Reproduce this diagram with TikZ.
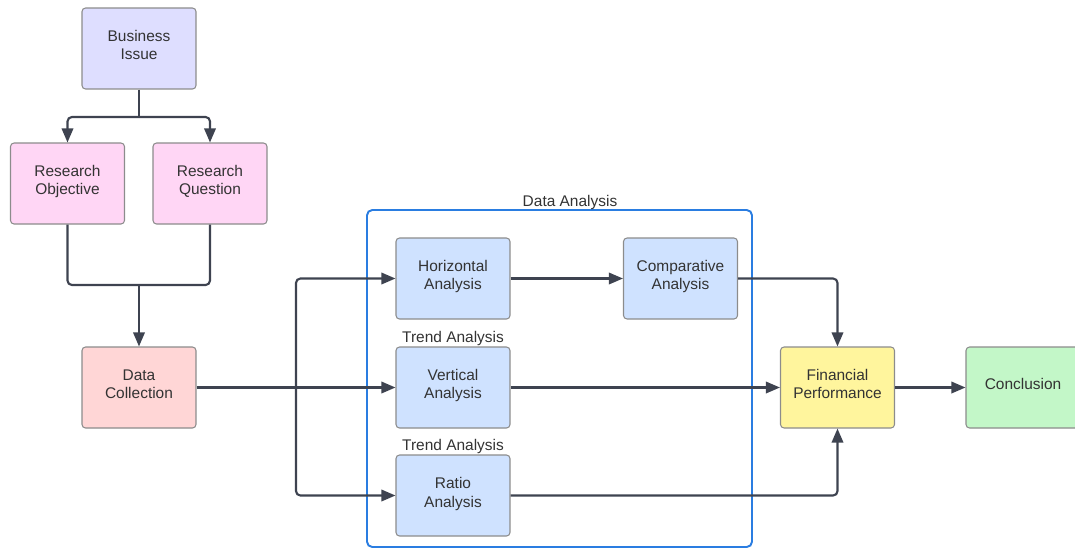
\documentclass[tikz,border=0pt]{standalone}
\usepackage{fontspec}
\setmainfont{Liberation Sans}
\usetikzlibrary{arrows.meta}
\definecolor{boxline}{HTML}{8C8C8C}
\definecolor{wire}{HTML}{3E4350}
\definecolor{frameblue}{HTML}{2A7DE1}
\definecolor{issuefill}{HTML}{DEDEFF}
\definecolor{researchfill}{HTML}{FFD6F5}
\definecolor{collectfill}{HTML}{FFD6D6}
\definecolor{analysisfill}{HTML}{CFE2FF}
\definecolor{perffill}{HTML}{FFF59D}
\definecolor{endfill}{HTML}{C3F7C8}
\tikzset{
  block/.style={draw=boxline, line width=0.6pt, rounded corners=2pt,
    minimum width=2.28cm, minimum height=1.62cm, align=center,
    text depth=3.6pt, text=black!80, font=\fontsize{8.8}{10.3}\selectfont},
  flow/.style={draw=wire, line width=1.2pt, rounded corners=2.5pt,
    -{Triangle[length=8pt,width=6.5pt]}},
  tag/.style={text=black!80, inner sep=0.5pt, font=\fontsize{8.8}{10.3}\selectfont}
}

\begin{document}
\begin{tikzpicture}[x=0.02cm, y=-0.02cm]
\useasboundingbox (0,0) rectangle (1075,549);
% group frame
\draw[frameblue, line width=1.1pt, rounded corners=3pt] (367,210) rectangle (752,547);
\node[tag] (datl) at (570,202) {Data Analysis};
% blocks
\node[block, fill=issuefill] (biz) at (139,48.5) {Business\\Issue};
\node[block, fill=researchfill] (robj) at (67.5,183.5) {Research\\Objective};
\node[block, fill=researchfill] (rq) at (210,183.5) {Research\\Question};
\node[block, fill=collectfill] (dc) at (139,387.5) {Data\\Collection};
\node[block, fill=analysisfill] (ha) at (453,278.5) {Horizontal\\Analysis};
\node[block, fill=analysisfill] (ca) at (680.5,278.5) {Comparative\\Analysis};
\node[block, fill=analysisfill] (va) at (453,387.5) {Vertical\\Analysis};
\node[block, fill=analysisfill] (ra) at (453,495.5) {Ratio\\Analysis};
\node[block, fill=perffill] (fp) at (837.5,387.5) {Financial\\Performance};
\node[block, fill=endfill] (con) at (1023,387.5) {Conclusion};
\node[tag, anchor=south] (trv) at (va.north) {Trend Analysis};
\node[tag, anchor=south] (trr) at (ra.north) {Trend Analysis};
% connectors
\coordinate (bsplit) at (139,117);
\coordinate (rjoin) at (139,285);
\coordinate (dsplit) at (296,387.5);
\draw[draw=wire, line width=1.2pt] (biz.south) -- (bsplit);
\draw[flow] (bsplit) -| (robj.north);
\draw[flow] (bsplit) -| (rq.north);
\draw[draw=wire, line width=1.2pt, rounded corners=2.5pt] (robj.south) |- (rjoin);
\draw[draw=wire, line width=1.2pt, rounded corners=2.5pt] (rq.south) |- (rjoin);
\draw[flow] (rjoin) -- (dc.north);
\draw[flow] (dc.east) -- (va.west);
\draw[flow] (dsplit) |- (ha.west);
\draw[flow] (dsplit) |- (ra.west);
\draw[flow] (ha.east) -- (ca.west);
\draw[flow] (ca.east) -| (fp.north);
\draw[flow] (va.east) -- (fp.west);
\draw[flow] (ra.east) -| (fp.south);
\draw[flow] (fp.east) -- (con.west);
\end{tikzpicture}
\end{document}
